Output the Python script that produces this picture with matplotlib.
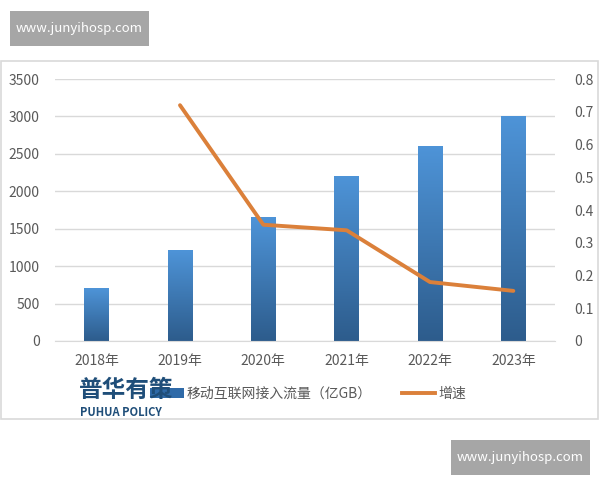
import numpy as np
import matplotlib.pyplot as plt
from matplotlib.patches import Rectangle, Patch
from matplotlib.lines import Line2D
from matplotlib.colors import LinearSegmentedColormap

plt.rcParams['font.family'] = ['Noto Sans CJK SC', 'DejaVu Sans']

# 数据
anos = ['2018年', '2019年', '2020年', '2021年', '2022年', '2023年']
fluxo = [705, 1215, 1655, 2205, 2605, 3005]          # 移动互联网接入流量（亿GB）
crescimento = [None, 0.72, 0.355, 0.338, 0.18, 0.153]  # 增速

cinza = '#595959'
laranja = '#DB803A'
cmap_barra = LinearSegmentedColormap.from_list('barra', ['#2D5C8C', '#4E94D8'])

fig = plt.figure(figsize=(6, 4.8), dpi=100)
W, H = 600, 480

def fx(px):
    return px / W

def fy(py):
    return 1 - py / H

# moldura do gráfico
fig.patches.append(Rectangle((fx(1), fy(419)), fx(597), (419 - 61) / H,
                             transform=fig.transFigure, fill=False,
                             edgecolor='#D9D9D9', linewidth=1.2))

ax = fig.add_axes([fx(55), fy(341), fx(500), (341 - 79) / H])
x = np.arange(len(anos))
barras = ax.bar(x, fluxo, width=0.3, color='none', zorder=2)
grad = np.linspace(0, 1, 256).reshape(-1, 1)
for b in barras:
    x0, y0 = b.get_x(), b.get_y()
    im = ax.imshow(grad, cmap=cmap_barra, origin='lower', aspect='auto',
                   extent=[x0, x0 + b.get_width(), y0, y0 + b.get_height()], zorder=2)
    im.set_clip_path(b)

ax.set_xlim(-0.5, len(anos) - 0.5)
ax.set_ylim(0, 3500)
ax.set_yticks(range(0, 3501, 500))
ax.set_xticks(x)
ax.set_xticklabels(anos)
ax.grid(axis='y', color='#D9D9D9', linewidth=1)
ax.set_axisbelow(True)
for s in ax.spines.values():
    s.set_visible(False)
ax.spines['bottom'].set_visible(True)
ax.spines['bottom'].set_color('#D9D9D9')
ax.tick_params(length=0, colors=cinza, labelsize=10)
ax.tick_params(axis='y', pad=11)
ax.tick_params(axis='x', pad=9)

ax2 = ax.twinx()
xs = [i for i, v in enumerate(crescimento) if v is not None]
ys = [v for v in crescimento if v is not None]
ax2.plot(xs, ys, color=laranja, linewidth=2.8, solid_capstyle='round', zorder=3)
ax2.set_ylim(0, 0.8)
ax2.set_yticks(np.arange(0, 0.81, 0.1))
ax2.set_yticklabels(['0'] + [f'{v:.1f}' for v in np.arange(0.1, 0.81, 0.1)])
for s in ax2.spines.values():
    s.set_visible(False)
ax2.tick_params(length=0, colors=cinza, labelsize=10, pad=14)

# legenda
leg = fig.legend(handles=[Patch(facecolor='#2F6AA8', label='移动互联网接入流量（亿GB）'),
                          Line2D([], [], color=laranja, linewidth=2.8, label='增速')],
                 loc='center', bbox_to_anchor=(fx(308), fy(394)), ncol=2, frameon=False,
                 fontsize=10, labelcolor=cinza, handlelength=2.4, handletextpad=0.2,
                 columnspacing=2.2)

# logo
fig.text(fx(79), fy(390), '普华有策', fontsize=17, fontweight='heavy', color='#1F4E79',
         va='center', ha='left', zorder=10)
fig.text(fx(80), fy(412), 'PUHUA POLICY', fontsize=8, fontweight='bold', color='#1F4E79',
         va='center', ha='left', zorder=10)

# marcas d'água
for (x0, y0) in [(10, 11), (451, 440)]:
    fig.patches.append(Rectangle((fx(x0), fy(y0 + 35)), fx(139), 35 / H,
                                 transform=fig.transFigure, facecolor='#A6A6A6',
                                 edgecolor='none', zorder=10))
    fig.text(fx(x0 + 69.5), fy(y0 + 17.5), 'www.junyihosp.com', color='white',
             fontsize=9.5, ha='center', va='center', zorder=11)

fig.savefig('out.png', dpi=100, facecolor='white')
